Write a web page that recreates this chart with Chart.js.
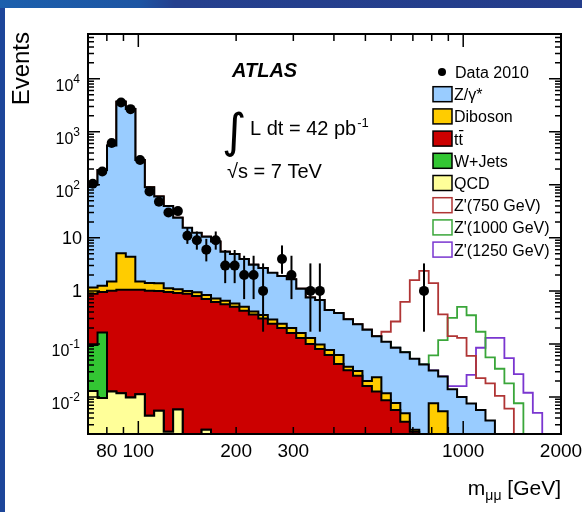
<!DOCTYPE html>
<html>
<head>
<meta charset="utf-8">
<script src="https://cdn.jsdelivr.net/npm/chart.js@4.4.1/dist/chart.umd.min.js"></script>
<style>
    html, body { margin: 0; padding: 0; }
    body { width: 582px; height: 512px; overflow: hidden; position: relative; background: #1d469a; }
    #band { position: absolute; left: 0; top: 0; width: 582px; height: 8px;
            background: linear-gradient(to right, #1c60ad 0%, #1d55a3 24%, #25408e 30%, #243d8b 100%); }
    #panel { position: absolute; left: 5px; top: 8px; right: 0; bottom: 0; background: #fff; }
    canvas { position: absolute; left: 0; top: 0; }
</style>
</head>
<body>
<div id="band"></div>
<div id="panel"></div>
<canvas id="massChart" width="582" height="512"></canvas>
<script>
// Bin edges of m_mumu in GeV (log binning)
const binEdges = [70, 74.9, 80.1, 85.6, 91.5, 97.9, 104.7, 111.9, 119.7, 128.0,
    136.9, 146.4, 156.6, 167.4, 179.0, 191.4, 204.7, 218.9, 234.1, 250.4,
    267.7, 286.3, 306.2, 327.4, 350.1, 374.4, 400.4, 428.2, 457.9, 489.6,
    523.6, 559.9, 598.8, 640.3, 684.8, 732.3, 783.1, 837.4, 895.5, 957.6,
    1024, 1095, 1171, 1252, 1339, 1432, 1532, 1638, 1751, 1873, 2000];

// Expected events per bin, one list per process (stacked in this order)
const qcd = [0.013, 0.0095, 0.0126, 0.0117, 0.0098, 0.0113, 0.0044, 0.0055, 0.0022, 0.0058,
    0, 0, 0.0024, 0, 0, 0, 0, 0, 0, 0,
    0, 0, 0, 0, 0, 0, 0, 0, 0, 0,
    0, 0, 0, 0, 0, 0, 0, 0, 0, 0,
    0, 0, 0, 0, 0, 0, 0, 0, 0, 0];
const wjets = [0.082, 0.155, 0, 0, 0, 0, 0, 0, 0, 0,
    0, 0, 0, 0, 0, 0, 0, 0, 0, 0,
    0, 0, 0, 0, 0, 0, 0, 0, 0, 0,
    0, 0, 0, 0, 0, 0, 0, 0, 0, 0,
    0, 0, 0, 0, 0, 0, 0, 0, 0, 0];
const ttbar = [0.79, 0.79, 0.99, 1.04, 1.04, 1.04, 1.0, 0.99, 0.95, 0.91,
    0.88, 0.80, 0.70, 0.62, 0.56, 0.50, 0.42, 0.36, 0.30, 0.24,
    0.20, 0.16, 0.13, 0.10, 0.08, 0.062, 0.042, 0.032, 0.025, 0.016,
    0.0126, 0.0087, 0.0057, 0.0034, 0.0022, 0, 0, 0, 0, 0,
    0, 0, 0, 0, 0, 0, 0, 0, 0, 0];
const diboson = [0.27, 0.30, 0.50, 4.05, 3.35, 0.45, 0.40, 0.40, 0.17, 0.16,
    0.12, 0.14, 0.13, 0.10, 0.09, 0.08, 0.08, 0.05, 0.05, 0.05,
    0.04, 0.04, 0.03, 0.03, 0.017, 0.015, 0.02, 0.005, 0.006, 0.004,
    0.011, 0.003, 0.002, 0.0015, 0.0002, 0, 0.0076, 0.0054, 0, 0,
    0, 0, 0, 0, 0, 0, 0, 0, 0, 0];
const zgamma = [99, 189, 548, 3695, 2696, 293, 89, 59, 39, 23,
    14.5, 11.5, 9.7, 7.8, 4.85, 4.4, 3.5, 2.7, 2.35, 1.9,
    1.66, 1.45, 0.94, 0.62, 0.58, 0.36, 0.32, 0.256, 0.204, 0.166,
    0.116, 0.098, 0.077, 0.065, 0.05, 0.041, 0.024, 0.019, 0.014, 0.010,
    0.0075, 0.0057, 0.0036, 0, 0, 0, 0, 0, 0, 0];

// Z' signals, drawn on top of the SM total
const zPrime750 = [0, 0, 0, 0, 0, 0, 0, 0, 0, 0,
    0, 0, 0, 0, 0, 0, 0, 0, 0, 0,
    0, 0, 0, 0, 0, 0, 0, 0, 0, 0,
    0, 0.06, 0.18, 0.55, 1.55, 2.35, 1.37, 0.336, 0.126, 0.12,
    0.052, 0.017, 0.0144, 0.0105, 0.006, 0, 0, 0, 0, 0];
const zPrime1000 = [0, 0, 0, 0, 0, 0, 0, 0, 0, 0,
    0, 0, 0, 0, 0, 0, 0, 0, 0, 0,
    0, 0, 0, 0, 0, 0, 0, 0, 0, 0,
    0, 0, 0, 0, 0, 0, 0.029, 0.093, 0.296, 0.49,
    0.34, 0.164, 0.052, 0.034, 0.018, 0.0076, 0, 0, 0, 0];
const zPrime1250 = [0, 0, 0, 0, 0, 0, 0, 0, 0, 0,
    0, 0, 0, 0, 0, 0, 0, 0, 0, 0,
    0, 0, 0, 0, 0, 0, 0, 0, 0, 0,
    0, 0, 0, 0, 0, 0, 0, 0, 0.002, 0.006,
    0.0185, 0.079, 0.126, 0.13, 0.054, 0.027, 0.012, 0.005, 0, 0];

// Data 2010: observed events and error bar ends
const dataEvents = [105, 178, 615, 3570, 2680, 295, 75, 48, 30, 32,
    11, 9, 6, 9, 3, 3, 2, 2, 1, 0,
    4, 2, 0, 1, 1, 0, 0, 0, 0, 0,
    0, 0, 0, 0, 0, 1, 0, 0, 0, 0,
    0, 0, 0, 0, 0, 0, 0, 0, 0, 0];
const dataErrLow = [95, 165, 590, 3510, 2630, 278, 66, 41, 25, 27,
    7.7, 6.0, 3.6, 6.0, 1.4, 1.4, 0.7, 0.7, 0.17, 0,
    2.1, 0.7, 0, 0.17, 0.17, 0, 0, 0, 0, 0,
    0, 0, 0, 0, 0, 0.17, 0, 0, 0, 0,
    0, 0, 0, 0, 0, 0, 0, 0, 0, 0];
const dataErrHigh = [115, 192, 640, 3630, 2730, 312, 84, 55, 36, 38,
    15.5, 13.2, 9.6, 13.2, 5.9, 5.9, 4.6, 4.6, 3.3, 0,
    7.2, 4.6, 0, 3.3, 3.3, 0, 0, 0, 0, 0,
    0, 0, 0, 0, 0, 3.3, 0, 0, 0, 0,
    0, 0, 0, 0, 0, 0, 0, 0, 0, 0];

// Axis ticks and labels
const xTickValues = [80, 90, 100, 200, 300, 400, 500, 600, 700, 800, 900, 1000];
const xLabelValues = [80, 100, 200, 300, 1000, 2000];
const yLabelValues = [0.01, 0.1, 1, 10, 100, 1000, 10000];
const yLabels = ['10^-2', '10^-1', '1', '10', '10^2', '10^3', '10^4'];

const legendLabels = ['Data 2010', 'Z/\u03b3*', 'Diboson', 'tt\u0304', 'W+Jets', 'QCD',
    "Z'(750 GeV)", "Z'(1000 GeV)", "Z'(1250 GeV)"];

const FONT = '"Liberation Sans", Arial, Helvetica, sans-serif';
const EMPTY = 1e-4; // empty bins fall below the y range

const colors = {
    zgamma: '#99ccff',
    diboson: '#ffcc00',
    ttbar: '#cc0000',
    wjets: '#33c633',
    qcd: '#ffff99',
    z750: '#b03535',
    z1000: '#3aa63a',
    z1250: '#7a36d0'
};

const binCenters = binEdges.slice(0, -1).map((e, i) => Math.sqrt(e * binEdges[i + 1]));

function addBins(...lists) {
    return lists[0].map((_, i) => lists.reduce((sum, list) => sum + list[i], 0));
}

function toSteps(values) {
    const pts = values.map((v, i) => ({ x: binEdges[i], y: v > 0 ? v : EMPTY }));
    pts.push({ x: binEdges[binEdges.length - 1], y: EMPTY });
    return pts;
}

// Stack tops
const topWjets = addBins(qcd, wjets);
const topTtbar = addBins(topWjets, ttbar);
const topDiboson = addBins(topTtbar, diboson);
const topSM = addBins(topDiboson, zgamma);

function stackLayer(label, values, color) {
    return {
        label: label,
        data: toSteps(values),
        stepped: true,
        fill: 'start',
        backgroundColor: color,
        borderColor: '#000',
        borderWidth: 2,
        pointRadius: 0,
        clip: 0
    };
}

function signalLine(label, values, color) {
    return {
        label: label,
        data: toSteps(addBins(topSM, values)),
        stepped: true,
        fill: false,
        borderColor: color,
        borderWidth: 1.8,
        pointRadius: 0,
        clip: 0
    };
}

// Error bars for the data points
const errorBars = {
    id: 'errorBars',
    afterDatasetsDraw(chart) {
        const { ctx, chartArea: a, scales: { x, y } } = chart;
        ctx.save();
        ctx.beginPath();
        ctx.rect(a.left, a.top, a.width, a.height);
        ctx.clip();
        ctx.strokeStyle = '#000';
        ctx.lineWidth = 2;
        dataEvents.forEach((n, i) => {
            if (!n) return;
            const px = x.getPixelForValue(binCenters[i]);
            ctx.beginPath();
            ctx.moveTo(px, y.getPixelForValue(dataErrLow[i]));
            ctx.lineTo(px, y.getPixelForValue(dataErrHigh[i]));
            ctx.stroke();
        });
        ctx.restore();
    }
};

// ROOT style frame, inward ticks, labels and texts
const atlasAxes = {
    id: 'atlasAxes',
    afterDraw(chart) {
        const { ctx, chartArea: a, scales: { x, y } } = chart;
        ctx.save();
        ctx.strokeStyle = '#000';
        ctx.lineWidth = 1.5;
        ctx.beginPath();
        for (let k = -3; k <= 4; k++) {
            for (let m = 1; m <= 9; m++) {
                const v = m * Math.pow(10, k);
                if (v <= y.min || v >= y.max) continue;
                const py = y.getPixelForValue(v);
                const len = m === 1 ? 12 : 6;
                ctx.moveTo(a.left, py); ctx.lineTo(a.left + len, py);
                ctx.moveTo(a.right, py); ctx.lineTo(a.right - len, py);
            }
        }
        xTickValues.forEach(v => {
            const px = x.getPixelForValue(v);
            const len = (v === 100 || v === 1000) ? 13 : 7;
            ctx.moveTo(px, a.bottom); ctx.lineTo(px, a.bottom - len);
            ctx.moveTo(px, a.top); ctx.lineTo(px, a.top + len);
        });
        ctx.stroke();
        ctx.lineWidth = 2;
        ctx.strokeRect(a.left, a.top, a.width, a.height);

        ctx.fillStyle = '#000';
        ctx.textBaseline = 'alphabetic';

        // x labels
        ctx.font = '19px ' + FONT;
        ctx.textAlign = 'center';
        xLabelValues.forEach(v => {
            ctx.fillText(String(v), x.getPixelForValue(v), a.bottom + 23);
        });

        // y labels
        ctx.textAlign = 'right';
        yLabelValues.forEach((v, i) => {
            const py = y.getPixelForValue(v);
            const parts = yLabels[i].split('^');
            const right = a.left - 8;
            if (parts.length === 2) {
                ctx.font = '12px ' + FONT;
                const expW = ctx.measureText(parts[1]).width;
                ctx.fillText(parts[1], right, py + 4.5);
                ctx.font = '16px ' + FONT;
                ctx.fillText(parts[0], right - expW, py + 12.5);
            } else {
                ctx.font = '18px ' + FONT;
                ctx.fillText(parts[0], right + 2, py + 6.5);
            }
        });

        // axis titles
        ctx.save();
        ctx.translate(29, 32);
        ctx.rotate(-Math.PI / 2);
        ctx.font = '24px ' + FONT;
        ctx.textAlign = 'right';
        ctx.fillText('Events', 0, 0);
        ctx.restore();

        ctx.textAlign = 'left';
        ctx.font = '21px ' + FONT;
        const unitW = ctx.measureText(' [GeV]').width;
        const mW = ctx.measureText('m').width;
        ctx.font = '14px ' + FONT;
        const subW = ctx.measureText('\u03bc\u03bc').width;
        const xStart = a.right - unitW - subW - mW;
        ctx.font = '21px ' + FONT;
        ctx.fillText('m', xStart, 495);
        ctx.fillText(' [GeV]', xStart + mW + subW, 495);
        ctx.font = '14px ' + FONT;
        ctx.fillText('\u03bc\u03bc', xStart + mW, 500);

        // ATLAS texts
        ctx.font = 'italic bold 20px ' + FONT;
        ctx.fillText('ATLAS', 232, 77);
        ctx.font = '47px "DejaVu Sans", sans-serif';
        ctx.fillText('\u222b', 222, 147);
        ctx.font = '20px ' + FONT;
        ctx.fillText('L dt = 42 pb', 250, 135);
        const pbW = ctx.measureText('L dt = 42 pb').width;
        ctx.font = '13px ' + FONT;
        ctx.fillText('-1', 250 + pbW + 1, 127);
        ctx.font = '20px ' + FONT;
        ctx.fillText('\u221as = 7 TeV', 227, 178);
        ctx.restore();
    }
};

// Legend in the top right corner
const atlasLegend = {
    id: 'atlasLegend',
    afterDraw(chart) {
        const ctx = chart.ctx;
        const fills = [null, colors.zgamma, colors.diboson, colors.ttbar, colors.wjets, colors.qcd, '#fff', '#fff', '#fff'];
        const edges = [null, '#000', '#000', '#000', '#000', '#000', colors.z750, colors.z1000, colors.z1250];
        ctx.save();
        ctx.font = '16px ' + FONT;
        ctx.textAlign = 'left';
        ctx.textBaseline = 'alphabetic';
        legendLabels.forEach((label, i) => {
            const cy = 72 + 22.2 * i;
            if (i === 0) {
                ctx.fillStyle = '#000';
                ctx.beginPath();
                ctx.arc(442, cy, 4, 0, Math.PI * 2);
                ctx.fill();
            } else {
                ctx.fillStyle = fills[i];
                ctx.fillRect(433, cy - 7.5, 19, 15);
                ctx.strokeStyle = edges[i];
                ctx.lineWidth = 1.5;
                ctx.strokeRect(433, cy - 7.5, 19, 15);
            }
            ctx.fillStyle = '#000';
            const tx = i === 0 ? 455 : 454;
            if (label === 'tt\u0304') {
                ctx.fillText('tt', tx, cy + 6);
                const tW = ctx.measureText('t').width;
                ctx.strokeStyle = '#000';
                ctx.lineWidth = 1.2;
                ctx.beginPath();
                ctx.moveTo(tx + tW + 0.5, cy - 8);
                ctx.lineTo(tx + 2 * tW + 0.5, cy - 8);
                ctx.stroke();
            } else {
                ctx.fillText(label, tx, cy + 6);
            }
        });
        ctx.restore();
    }
};

const massCtx = document.getElementById('massChart').getContext('2d');
const massChart = new Chart(massCtx, {
    type: 'line',
    data: {
        datasets: [
            {
                label: 'Data 2010',
                data: dataEvents.map((n, i) => ({ x: binCenters[i], y: n })).filter(p => p.y > 0),
                showLine: false,
                pointRadius: 5,
                pointBackgroundColor: '#000',
                pointBorderColor: '#000',
                pointBorderWidth: 0,
                clip: 0
            },
            stackLayer('QCD', qcd, colors.qcd),
            stackLayer('W+Jets', topWjets, colors.wjets),
            stackLayer('ttbar', topTtbar, colors.ttbar),
            stackLayer('Diboson', topDiboson, colors.diboson),
            stackLayer('Z/gamma*', topSM, colors.zgamma),
            signalLine("Z'(750 GeV)", zPrime750, colors.z750),
            signalLine("Z'(1000 GeV)", zPrime1000, colors.z1000),
            signalLine("Z'(1250 GeV)", zPrime1250, colors.z1250)
        ]
    },
    options: {
        responsive: false,
        animation: false,
        events: [],
        layout: {
            padding: { left: 88, top: 34, right: 21, bottom: 78 }
        },
        plugins: {
            legend: { display: false },
            tooltip: { enabled: false }
        },
        scales: {
            x: { type: 'logarithmic', min: 70, max: 2000, display: false },
            y: { type: 'logarithmic', min: 0.002, max: 70000, display: false }
        }
    },
    plugins: [errorBars, atlasAxes, atlasLegend]
});
</script>
</body>
</html>
